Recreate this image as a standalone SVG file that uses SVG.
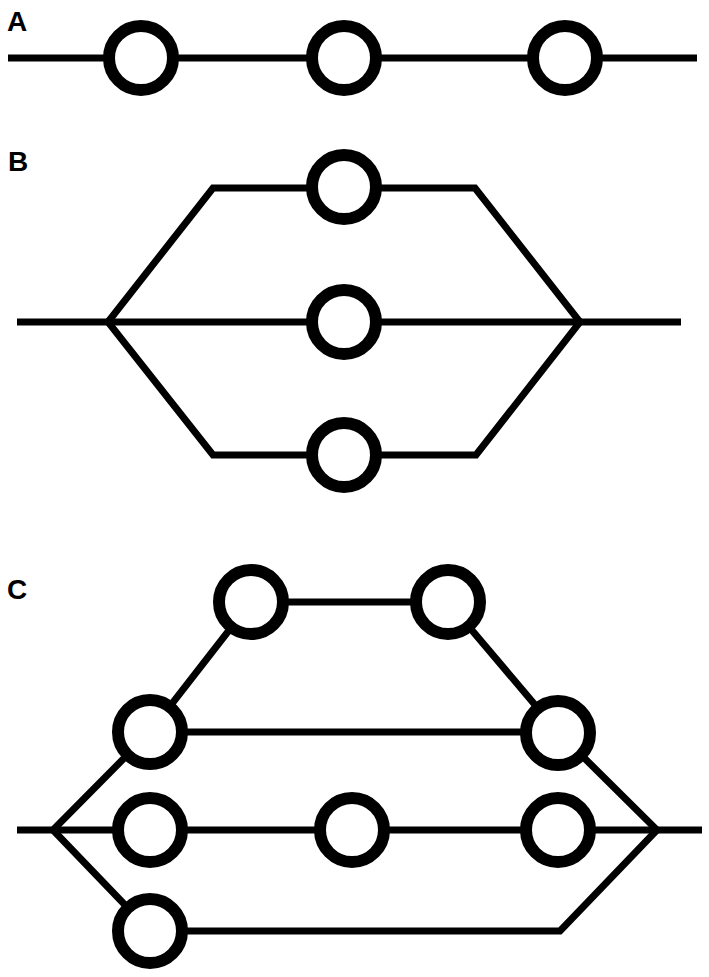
<svg xmlns="http://www.w3.org/2000/svg" width="709" height="977" viewBox="0 0 709 977">
<style>
.ln{fill:none;stroke:#000;stroke-width:7;stroke-linejoin:miter;stroke-linecap:butt}
.nd{fill:#fff;stroke:#000;stroke-width:12}
.lb{font-family:"Liberation Sans",Arial,sans-serif;font-weight:bold;font-size:28px;fill:#000}
</style>
<rect width="709" height="977" fill="#fff"/>
<g id="labels">
<text class="lb" x="7" y="31">A</text>
<text class="lb" x="8" y="171">B</text>
<text class="lb" x="7" y="599">C</text>
</g>
<g id="connectors">
<path class="ln" d="M8,58 H697"/>
<path class="ln" d="M17,322 H681"/>
<path class="ln" d="M108,322 L213,188 H475 L580,322 L476,455 H213 Z"/>
<path class="ln" d="M17,830 H702"/>
<path class="ln" d="M53,830 L150,732 L251,602 H448 L558,732 L657,830 L560,931 H150 L53,830"/>
<path class="ln" d="M150,732 H558"/>
</g>
<g id="nodeA1"><circle class="nd" cx="141" cy="58" r="32"/></g>
<g id="nodeA2"><circle class="nd" cx="344" cy="58" r="32"/></g>
<g id="nodeA3"><circle class="nd" cx="565" cy="58" r="32"/></g>
<g id="nodeB1"><circle class="nd" cx="344" cy="187" r="32"/></g>
<g id="nodeB2"><circle class="nd" cx="344" cy="322" r="32"/></g>
<g id="nodeB3"><circle class="nd" cx="344" cy="455" r="32"/></g>
<g id="nodeC1"><circle class="nd" cx="251" cy="602" r="32"/></g>
<g id="nodeC2"><circle class="nd" cx="448" cy="602" r="32"/></g>
<g id="nodeC3"><circle class="nd" cx="150" cy="732" r="32"/></g>
<g id="nodeC4"><circle class="nd" cx="558" cy="733" r="32"/></g>
<g id="nodeC5"><circle class="nd" cx="150" cy="830" r="32"/></g>
<g id="nodeC6"><circle class="nd" cx="352" cy="830" r="32"/></g>
<g id="nodeC7"><circle class="nd" cx="558" cy="830" r="32"/></g>
<g id="nodeC8"><circle class="nd" cx="150" cy="931" r="32"/></g>
</svg>
